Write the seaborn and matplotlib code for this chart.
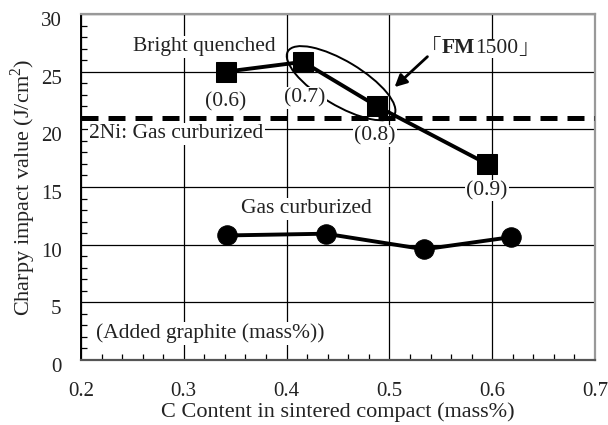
import matplotlib
matplotlib.use("Agg")
import matplotlib.pyplot as plt
import matplotlib.transforms as mtransforms
from matplotlib.patches import Ellipse
from matplotlib.ticker import MultipleLocator
import pandas as pd
import seaborn as sns

# Bright quenched series (added graphite in parentheses)
bq_carbon = [0.341, 0.416, 0.488, 0.595]
bq_charpy = [25.0, 25.85, 22.0, 17.0]
bq_graphite = ["(0.6)", "(0.7)", "(0.8)", "(0.9)"]

# Gas curburized series
gc_carbon = [0.342, 0.438, 0.534, 0.618]
gc_charpy = [10.8, 10.95, 9.6, 10.65]

# 2Ni reference level (gas curburized)
ni_level = 21.0

x_ticks = [0.2, 0.3, 0.4, 0.5, 0.6, 0.7]
y_ticks = [0, 5, 10, 15, 20, 25, 30]

sns.set_style("white")
plt.rcParams["font.family"] = ["Liberation Serif", "Noto Sans CJK JP"]
plt.rcParams["mathtext.fontset"] = "custom"
plt.rcParams["mathtext.rm"] = "Liberation Serif"

ink = "#222222"
fig = plt.figure(figsize=(6.08, 4.25), dpi=100)
ax = fig.add_axes([81 / 608, 1 - 360 / 425, (595 - 81) / 608, (360 - 14) / 425])

bq = pd.DataFrame({"carbon": bq_carbon, "charpy": bq_charpy})
gc = pd.DataFrame({"carbon": gc_carbon, "charpy": gc_charpy})

ax.axhline(ni_level, color="black", lw=3.6, ls=(0, (3.4, 2.0)), zorder=3)

sns.lineplot(data=bq, x="carbon", y="charpy", ax=ax, color="black", lw=2.8,
             marker="s", markersize=14, markeredgecolor="black",
             markerfacecolor="black", zorder=4, sort=False)
sns.lineplot(data=gc, x="carbon", y="charpy", ax=ax, color="black", lw=2.8,
             marker="o", markersize=14, markeredgecolor="black",
             markerfacecolor="black", zorder=4, sort=False)

ax.set_xlim(0.2, 0.7)
ax.set_ylim(0, 30)
ax.set_xticks(x_ticks)
ax.set_yticks(y_ticks)
ax.set_xticklabels([f"{v:.1f}" for v in x_ticks])
ax.set_yticklabels([str(v) for v in y_ticks])
ax.xaxis.set_minor_locator(MultipleLocator(0.02))
ax.yaxis.set_minor_locator(MultipleLocator(1))
ax.grid(True, which="major", color="black", lw=0.9, zorder=1)
ax.set_axisbelow(True)
ax.tick_params(which="major", length=0, labelsize=15, colors=ink)
ax.tick_params(axis="x", which="major", pad=16)
ax.tick_params(axis="y", which="major", pad=14)
ax.tick_params(which="minor", direction="in", length=4.5, width=0.9,
               bottom=True, left=True, top=False, right=False, color="black")
for lab in ax.get_yticklabels():
    lab.set_transform(lab.get_transform() + mtransforms.ScaledTranslation(0, -5 / 100, fig.dpi_scale_trans))

ax.spines["top"].set_color("#999999")
ax.spines["right"].set_color("#999999")
ax.spines["top"].set_linewidth(1.6)
ax.spines["right"].set_linewidth(1.6)
ax.spines["left"].set_color("black")
ax.spines["left"].set_linewidth(1.4)
ax.spines["bottom"].set_color("#555555")
ax.spines["bottom"].set_linewidth(1.6)

ax.set_xlabel("C Content in sintered compact (mass%)", fontsize=16, labelpad=1, color=ink)
ax.set_ylabel("Charpy impact value (J/cm$^2$)", fontsize=16, labelpad=2, color=ink)

white = dict(facecolor="white", edgecolor="none", pad=1.0)
white0 = dict(facecolor="white", edgecolor="none", pad=0.0)
fs = 15.5

# Added graphite labels under the bright quenched points
label_pos = [(0.341, 22.4), (0.418, 22.7), (0.486, 19.4), (0.595, 14.7)]
for (lx, ly), txt in zip(label_pos, bq_graphite):
    ax.text(lx, ly, txt, ha="center", va="center", fontsize=fs, bbox=white, zorder=6, color=ink)

ax.text(0.32, 27.15, "Bright quenched", ha="center", va="center", fontsize=fs, bbox=white, zorder=6, color=ink)
ax.text(0.208, 19.6, "2Ni: Gas curburized", ha="left", va="center", fontsize=fs, bbox=white, zorder=6, color=ink)
ax.text(0.419, 13.1, "Gas curburized", ha="center", va="center", fontsize=fs, bbox=white, zorder=6, color=ink)
ax.text(0.215, 2.3, "(Added graphite (mass%))", ha="left", va="center", fontsize=fs, bbox=white, zorder=6, color=ink)

# 「FM1500」 label built from pieces so that FM is bold
t1 = ax.text(0.530, 27.05, "「", ha="left", va="center", fontsize=fs,
             family=["Noto Sans CJK JP"], fontweight="light", zorder=6, color=ink)
t2 = ax.annotate("FM", xy=(1, 0.5), xycoords=t1, ha="left", va="center",
                 fontsize=fs, fontweight="bold", zorder=6, color=ink, bbox=white0)
t3 = ax.annotate("1500", xy=(1, 0.5), xycoords=t2, ha="left", va="center",
                 fontsize=fs, zorder=6, color=ink, bbox=white0)
ax.annotate("」", xy=(1, 0.5), xycoords=t3, ha="left", va="center",
            fontsize=fs, family=["Noto Sans CJK JP"], fontweight="light", zorder=6, color=ink)

ax.annotate("", xy=(0.505, 23.66), xytext=(0.537, 26.3),
            arrowprops=dict(arrowstyle="-|>", lw=2.0, color="black",
                            mutation_scale=18, shrinkA=0, shrinkB=0), zorder=6)

# Ellipse around the FM1500 points, sized in pixels
ell_tr = (mtransforms.Affine2D().scale(62, 22).rotate_deg(-31)
          + mtransforms.ScaledTranslation(0.453, 24.0, ax.transData))
ax.add_patch(Ellipse((0, 0), 2, 2, fill=False, edgecolor="black", lw=1.4,
                     transform=ell_tr, zorder=5))

fig.savefig("out.png", dpi=100)
